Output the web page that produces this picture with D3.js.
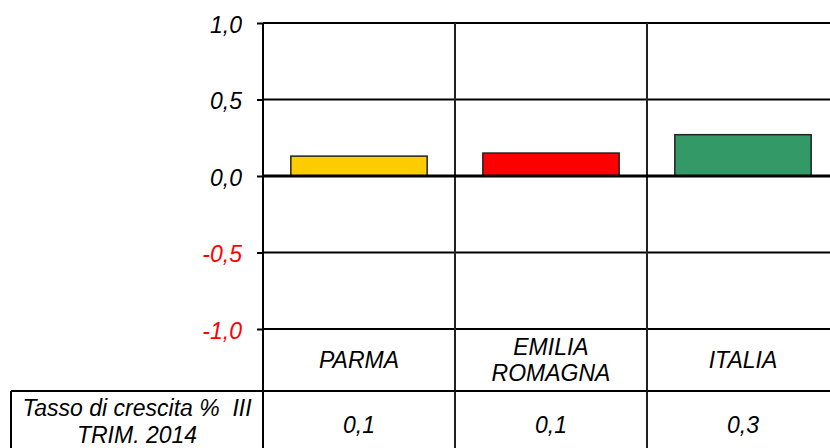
<!DOCTYPE html>
<html>
<head>
<meta charset="utf-8">
<script src="https://cdn.jsdelivr.net/npm/d3@7"></script>
<style>
    body { margin: 0; background: #fff; }
    text { font-family: 'Liberation Sans', Arial, sans-serif; font-style: italic; white-space: pre; }
</style>
</head>
<body>
<div id="chart"></div>
<script>
const categories = ['PARMA', 'EMILIA\nROMAGNA', 'ITALIA'];
const values = [0.13, 0.15, 0.27];
const barColors = ['#FFCC00', '#FF0000', '#339966'];
const yTicks = [-1, -0.5, 0, 0.5, 1];
const rowLabel = ['Tasso di crescita %  III', 'TRIM. 2014'];

const width = 830;
const height = 448;

const plot = { left: 263, right: 839, top: 23, bottom: 329 };
const catRowBottom = 391;
const tableLeft = 11;
const fontSize = 23;

const it = d3.formatLocale({ decimal: ',', thousands: '.', grouping: [3], currency: ['€', ''], minus: '-' });
const fmt = it.format('.1f');

const svg = d3.select('#chart')
    .append('svg')
    .attr('width', width)
    .attr('height', height);

const x = d3.scaleBand()
    .domain(categories)
    .range([plot.left, plot.right])
    .paddingInner(0.29)
    .paddingOuter(0.145);

const y = d3.scaleLinear()
    .domain([-1, 1])
    .range([plot.bottom, plot.top]);

// column edges (category separators)
const step = x.step();
const colEdges = categories.map((c, i) => plot.left + i * step);

// horizontal gridlines
svg.append('g')
    .selectAll('line')
    .data(yTicks.filter(d => d !== 0))
    .enter()
    .append('line')
    .attr('x1', plot.left)
    .attr('x2', width)
    .attr('y1', d => y(d))
    .attr('y2', d => y(d))
    .attr('stroke', '#000')
    .attr('stroke-width', 2);

// vertical separators, running down through the table
svg.append('g')
    .selectAll('line')
    .data(colEdges.slice(1))
    .enter()
    .append('line')
    .attr('x1', d => d)
    .attr('x2', d => d)
    .attr('y1', plot.top)
    .attr('y2', height)
    .attr('stroke', '#222')
    .attr('stroke-width', 2);

// bars
svg.append('g')
    .selectAll('rect')
    .data(values)
    .enter()
    .append('rect')
    .attr('x', (d, i) => x(categories[i]))
    .attr('width', x.bandwidth())
    .attr('y', d => y(Math.max(0, d)))
    .attr('height', d => Math.abs(y(d) - y(0)))
    .attr('fill', (d, i) => barColors[i])
    .attr('stroke', '#222')
    .attr('stroke-width', 1.5);

// zero line
svg.append('line')
    .attr('x1', plot.left)
    .attr('x2', width)
    .attr('y1', y(0))
    .attr('y2', y(0))
    .attr('stroke', '#000')
    .attr('stroke-width', 3);

// y axis
const yAxis = svg.append('g')
    .attr('transform', `translate(${plot.left},0)`)
    .call(d3.axisLeft(y).tickValues(yTicks).tickSize(6).tickPadding(15).tickFormat(fmt));
yAxis.select('.domain').remove();
yAxis.append('line')
    .attr('x1', 0).attr('x2', 0)
    .attr('y1', plot.top).attr('y2', height)
    .attr('stroke', '#000')
    .attr('stroke-width', 2);
yAxis.selectAll('.tick line').attr('stroke', '#000').attr('stroke-width', 2);
yAxis.selectAll('.tick text')
    .attr('font-size', fontSize)
    .attr('font-family', "'Liberation Sans', Arial, sans-serif")
    .attr('dy', '0.4em')
    .attr('fill', d => d < 0 ? '#FF0000' : '#000');

// table: row separator and header cell
svg.append('line')
    .attr('x1', tableLeft)
    .attr('x2', width)
    .attr('y1', catRowBottom)
    .attr('y2', catRowBottom)
    .attr('stroke', '#000')
    .attr('stroke-width', 2);
svg.append('line')
    .attr('x1', tableLeft)
    .attr('x2', tableLeft)
    .attr('y1', catRowBottom)
    .attr('y2', height)
    .attr('stroke', '#000')
    .attr('stroke-width', 2);

// category labels
const catText = svg.append('g')
    .selectAll('text')
    .data(categories)
    .enter()
    .append('text')
    .attr('text-anchor', 'middle')
    .attr('font-size', fontSize)
    .attr('fill', '#000');
catText.each(function (d) {
    const lines = d.split('\n');
    const cx = x(d) + x.bandwidth() / 2;
    const cy = (plot.bottom + catRowBottom) / 2;
    const lh = 26;
    lines.forEach((l, k) => {
        d3.select(this).append('tspan')
            .attr('x', cx)
            .attr('y', cy + (k - (lines.length - 1) / 2) * lh + 8)
            .text(l);
    });
});

// row header
const header = svg.append('text')
    .attr('text-anchor', 'middle')
    .attr('font-size', fontSize)
    .attr('fill', '#000');
rowLabel.forEach((l, k) => {
    header.append('tspan')
        .attr('x', (tableLeft + plot.left) / 2)
        .attr('y', 416 + k * 27)
        .text(l);
});

// data values
svg.append('g')
    .selectAll('text')
    .data(values)
    .enter()
    .append('text')
    .attr('text-anchor', 'middle')
    .attr('font-size', fontSize)
    .attr('fill', '#000')
    .attr('x', (d, i) => x(categories[i]) + x.bandwidth() / 2)
    .attr('y', 433)
    .text(d => fmt(d));
</script>
</body>
</html>
